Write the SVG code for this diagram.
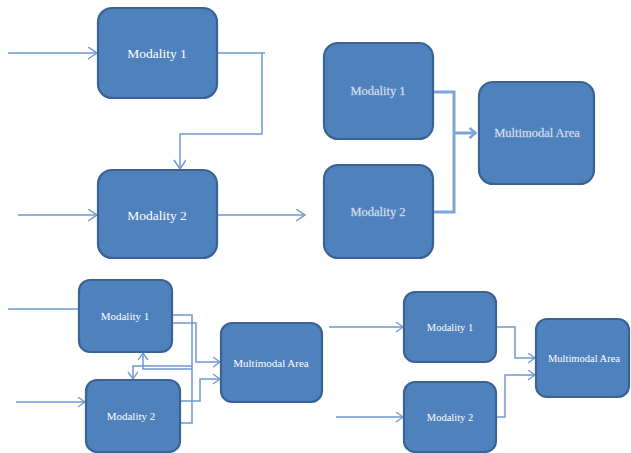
<svg xmlns="http://www.w3.org/2000/svg" width="631" height="453" viewBox="0 0 631 453">
  <style>
    .box { fill: #4F81BD; stroke: #3A6394; stroke-width: 2.2; }
    text { font-family: 'Liberation Serif', 'Times New Roman', 'DejaVu Serif', serif; text-anchor: middle; }
    .lbl { fill: #ffffff; }
    .lbl2 { fill: #eef3fa; stroke: #a9c0de; stroke-width: 0.3; }
    .ln { fill: none; stroke: #6F99CF; stroke-width: 1.5; }
    .thk { fill: none; stroke: #7DA4D6; stroke-width: 3; }
  </style>
  <defs>
    <marker id="ah" markerUnits="userSpaceOnUse" markerWidth="14" markerHeight="14" refX="10" refY="6" orient="auto" viewBox="0 0 14 14">
      <path d="M1,0 L10,6 L1,12" fill="none" stroke="#6F99CF" stroke-width="1.5"/>
    </marker>
    <marker id="ahs" markerUnits="userSpaceOnUse" markerWidth="12" markerHeight="12" refX="8" refY="5" orient="auto" viewBox="0 0 12 12">
      <path d="M1,0 L8,5 L1,10" fill="none" stroke="#6F99CF" stroke-width="1.3"/>
    </marker>
    <marker id="aht" markerUnits="userSpaceOnUse" markerWidth="14" markerHeight="14" refX="8" refY="6" orient="auto" viewBox="0 0 14 14">
      <path d="M1.5,1 L7.5,6 L1.5,11" fill="none" stroke="#7DA4D6" stroke-width="2.5"/>
    </marker>
  </defs>

  <g id="connectors">
    <path class="ln" d="M8,53 H97" marker-end="url(#ah)"/>
    <path class="ln" d="M217,53 H265 M262,53 V134 H180 V169" marker-end="url(#ah)"/>
    <path class="ln" d="M18,215 H97" marker-end="url(#ah)"/>
    <path class="ln" d="M217,215 H305" marker-end="url(#ah)"/>
    <path class="thk" d="M433,92 H454 V212 H433"/>
    <path class="thk" d="M454,133 H476" marker-end="url(#aht)"/>
    <path class="ln" d="M8,309 H79"/>
    <path class="ln" d="M16,402 H85" marker-end="url(#ahs)"/>
    <path class="ln" d="M172,315 H192 V423 H180"/>
    <path class="ln" d="M172,323 H196 V362 H220" marker-end="url(#ahs)"/>
    <path class="ln" d="M180,401 H200 V379 H220" marker-end="url(#ahs)"/>
    <path class="ln" d="M192,369 H143 V353" marker-end="url(#ahs)"/>
    <path class="ln" d="M192,366 H133 V379" marker-end="url(#ahs)"/>
    <path class="ln" d="M329,327 H403" marker-end="url(#ahs)"/>
    <path class="ln" d="M336,417 H403" marker-end="url(#ahs)"/>
    <path class="ln" d="M496,327 H515 V358 H535" marker-end="url(#ahs)"/>
    <path class="ln" d="M496,417 H505 V375 H535" marker-end="url(#ahs)"/>
  </g>

  <g id="tl-modality1">
    <rect class="box" x="98" y="8" width="119" height="90" rx="14"/>
    <text class="lbl" x="157" y="57.5" font-size="13.5" font-family="Liberation Serif, serif">Modality 1</text>
  </g>
  <g id="tl-modality2">
    <rect class="box" x="98" y="170" width="119" height="88" rx="14"/>
    <text class="lbl" x="157" y="219.5" font-size="13.5" font-family="Liberation Serif, serif">Modality 2</text>
  </g>

  <g id="tr-modality1">
    <rect class="box" x="324" y="43" width="109" height="96" rx="14"/>
    <text class="lbl2" x="378" y="95" font-size="12.5" font-family="Liberation Serif, serif">Modality 1</text>
  </g>
  <g id="tr-modality2">
    <rect class="box" x="324" y="165" width="109" height="93" rx="14"/>
    <text class="lbl2" x="378" y="216" font-size="12.5" font-family="Liberation Serif, serif">Modality 2</text>
  </g>
  <g id="tr-multimodal">
    <rect class="box" x="479" y="82" width="115" height="102" rx="14"/>
    <text class="lbl2" x="537" y="137" font-size="12.5" font-family="Liberation Serif, serif">Multimodal Area</text>
  </g>

  <g id="bl-modality1">
    <rect class="box" x="79" y="280" width="93" height="72" rx="11"/>
    <text class="lbl" x="125" y="320" font-size="11" font-family="Liberation Serif, serif">Modality 1</text>
  </g>
  <g id="bl-modality2">
    <rect class="box" x="86" y="380" width="94" height="72" rx="11"/>
    <text class="lbl" x="131" y="420" font-size="11" font-family="Liberation Serif, serif">Modality 2</text>
  </g>
  <g id="bl-multimodal">
    <rect class="box" x="221" y="323" width="101" height="79" rx="11"/>
    <text class="lbl" x="271" y="367" font-size="11" font-family="Liberation Serif, serif">Multimodal Area</text>
  </g>

  <g id="br-modality1">
    <rect class="box" x="404" y="292" width="92" height="70" rx="11"/>
    <text class="lbl" x="450" y="331" font-size="10.5" font-family="Liberation Serif, serif">Modality 1</text>
  </g>
  <g id="br-modality2">
    <rect class="box" x="404" y="382" width="92" height="70" rx="11"/>
    <text class="lbl" x="450" y="421" font-size="10.5" font-family="Liberation Serif, serif">Modality 2</text>
  </g>
  <g id="br-multimodal">
    <rect class="box" x="536" y="319" width="93" height="78" rx="11"/>
    <text class="lbl" x="584" y="362" font-size="10.5" font-family="Liberation Serif, serif">Multimodal Area</text>
  </g>
</svg>
